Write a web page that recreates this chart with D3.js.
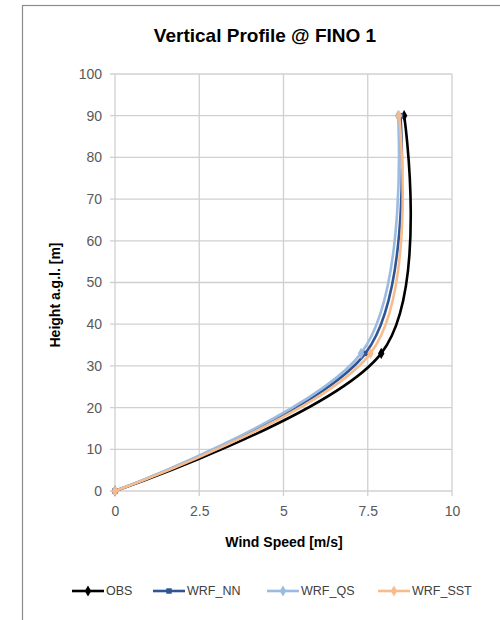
<!DOCTYPE html>
<html>
<head>
<meta charset="utf-8">
<script src="https://cdn.jsdelivr.net/npm/d3@7"></script>
<style>
  body { margin: 0; background: #fff; }
  text { font-family: "Liberation Sans", Arial, sans-serif; }
</style>
</head>
<body>
<div id="wrapper"></div>
<script>
// measurement heights and wind speed per series
const heights = [0, 33, 90]
const obsSpeed = [0, 7.9, 8.58]
const nnSpeed = [0, 7.43, 8.47]
const qsSpeed = [0, 7.3, 8.4]
const sstSpeed = [0, 7.58, 8.43]

const seriesNames = ["OBS", "WRF_NN", "WRF_QS", "WRF_SST"]
const xTicks = [0, 2.5, 5, 7.5, 10]
const yTicks = [0, 10, 20, 30, 40, 50, 60, 70, 80, 90, 100]

function drawProfile() {
  let dimensions = {
    width: 500,
    height: 620,
    margin: {
      top: 74,
      right: 48,
      bottom: 129,
      left: 115,
    },
  }
  dimensions.boundedWidth = dimensions.width - dimensions.margin.left - dimensions.margin.right
  dimensions.boundedHeight = dimensions.height - dimensions.margin.top - dimensions.margin.bottom

  const series = [
    { name: seriesNames[0], speed: obsSpeed, color: "#000000", symbol: d3.symbolDiamond, size: 36 },
    { name: seriesNames[1], speed: nnSpeed, color: "#2f5597", symbol: d3.symbolSquare, size: 30 },
    { name: seriesNames[2], speed: qsSpeed, color: "#9bbbe0", symbol: d3.symbolDiamond, size: 36 },
    { name: seriesNames[3], speed: sstSpeed, color: "#f8bc8c", symbol: d3.symbolDiamond, size: 36 },
  ]

  const wrapper = d3.select("#wrapper")
    .append("svg")
      .attr("width", dimensions.width)
      .attr("height", dimensions.height)

  // chart frame, runs off the right and bottom edge
  wrapper.append("rect")
    .attr("x", 22.5)
    .attr("y", 5.5)
    .attr("width", 600)
    .attr("height", 700)
    .attr("fill", "none")
    .attr("stroke", "#8c8c8c")
    .attr("stroke-width", 1.2)

  wrapper.append("text")
    .attr("x", 265)
    .attr("y", 42)
    .attr("text-anchor", "middle")
    .style("font-size", "19px")
    .style("font-weight", "bold")
    .attr("fill", "#000")
    .text("Vertical Profile @ FINO 1")

  const bounds = wrapper.append("g")
    .attr("transform", `translate(${dimensions.margin.left}, ${dimensions.margin.top})`)

  const xScale = d3.scaleLinear()
    .domain([0, 10])
    .range([0, dimensions.boundedWidth])

  const yScale = d3.scaleLinear()
    .domain([0, 100])
    .range([dimensions.boundedHeight, 0])

  // grid
  bounds.append("g")
    .selectAll("line")
    .data(yTicks)
    .join("line")
      .attr("x1", -5)
      .attr("x2", dimensions.boundedWidth)
      .attr("y1", d => yScale(d))
      .attr("y2", d => yScale(d))
      .attr("stroke", "#d0d0d0")
      .attr("stroke-width", 1.3)

  bounds.append("g")
    .selectAll("line")
    .data(xTicks)
    .join("line")
      .attr("x1", d => xScale(d))
      .attr("x2", d => xScale(d))
      .attr("y1", 0)
      .attr("y2", dimensions.boundedHeight + 5)
      .attr("stroke", "#d0d0d0")
      .attr("stroke-width", 1.3)

  // axes (labels only, lines come from the grid)
  const yAxis = bounds.append("g")
    .call(d3.axisLeft(yScale).tickValues(yTicks).tickSize(0).tickPadding(13))
  const xAxis = bounds.append("g")
    .attr("transform", `translate(0, ${dimensions.boundedHeight})`)
    .call(d3.axisBottom(xScale).tickValues(xTicks).tickSize(0).tickPadding(15).tickFormat(d3.format("~g")))

  bounds.selectAll(".domain").remove()
  bounds.selectAll(".tick text")
    .style("font-family", "Liberation Sans, Arial, sans-serif")
    .style("font-size", "14px")
    .attr("fill", "#595959")

  wrapper.append("text")
    .attr("x", 284)
    .attr("y", 547)
    .attr("text-anchor", "middle")
    .style("font-size", "14px")
    .style("font-weight", "bold")
    .attr("fill", "#000")
    .text("Wind Speed [m/s]")

  wrapper.append("text")
    .attr("transform", "translate(60, 295) rotate(-90)")
    .attr("text-anchor", "middle")
    .style("font-size", "14px")
    .style("font-weight", "bold")
    .attr("fill", "#000")
    .text("Height a.g.l. [m]")

  // smoothed profile lines
  const lineGenerator = d3.line()
    .x(d => xScale(d[0]))
    .y(d => yScale(d[1]))
    .curve(d3.curveCardinal.tension(0))

  series.forEach(s => {
    const pts = s.speed.map((v, i) => [v, heights[i]])
    bounds.append("path")
      .attr("d", lineGenerator(pts))
      .attr("fill", "none")
      .attr("stroke", s.color)
      .attr("stroke-width", 2.6)

    bounds.append("g")
      .selectAll("path")
      .data(pts)
      .join("path")
        .attr("transform", d => `translate(${xScale(d[0])}, ${yScale(d[1])})`)
        .attr("d", d3.symbol().type(s.symbol).size(s.size))
        .attr("fill", s.color)
  })

  // legend
  const legendX = [72, 153, 267, 378]
  const legend = wrapper.append("g")
    .selectAll("g")
    .data(series)
    .join("g")
      .attr("transform", (d, i) => `translate(${legendX[i]}, 591)`)

  legend.append("line")
    .attr("x1", 0)
    .attr("x2", 32)
    .attr("stroke", d => d.color)
    .attr("stroke-width", 2.6)

  legend.append("path")
    .attr("transform", "translate(16, 0)")
    .attr("d", d => d3.symbol().type(d.symbol).size(d.size)())
    .attr("fill", d => d.color)

  legend.append("text")
    .attr("x", 34)
    .attr("dy", "0.35em")
    .style("font-size", "12.5px")
    .attr("fill", "#404040")
    .text(d => d.name)
}

drawProfile()
</script>
</body>
</html>
